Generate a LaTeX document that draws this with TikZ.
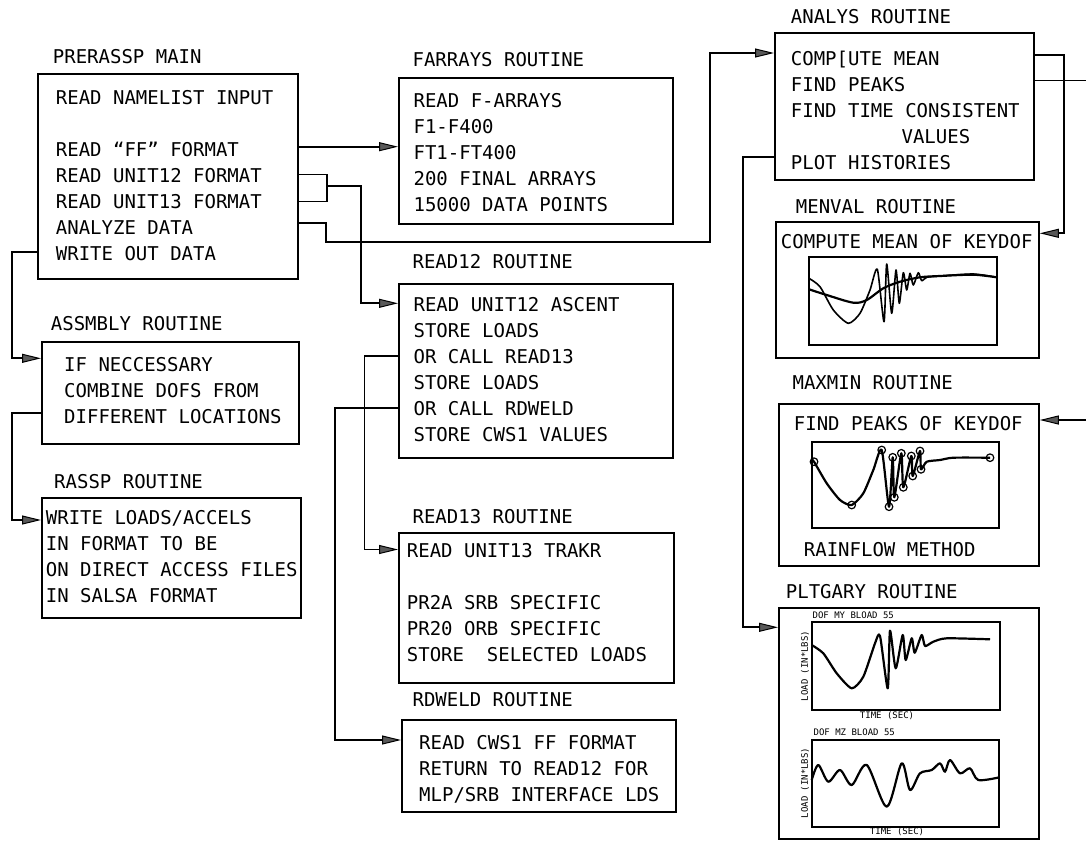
\documentclass[tikz,border=0pt]{standalone}
\usepackage{fontspec}
\setmainfont{DejaVu Sans Mono}
\usetikzlibrary{arrows.meta}
\newcommand{\boxfont}{\fontsize{19}{26}\selectfont}
\newcommand{\plotfont}{\fontsize{9}{10}\selectfont}
\begin{document}
\begin{tikzpicture}[x=1pt, y=-1pt, line width=1.8pt,
  box/.style={draw, anchor=north west, inner sep=0pt},
  txt/.style={anchor=north west, inner sep=0pt, font=\boxfont},
  ttl/.style={anchor=west, inner sep=0pt, font=\boxfont},
  lbl/.style={inner sep=0pt, font=\plotfont},
  arr/.style={-{Triangle[length=19pt, width=9pt, line width=1pt, fill=black!65]}},
  trace/.style={line width=2.2pt, line join=round}]
\useasboundingbox (0,0) rectangle (1086,841);

\node[box, minimum width=260pt, minimum height=205pt] (main) at (37,73) {};
\node[box, minimum width=274pt, minimum height=146pt] (farrays) at (398,77) {};
\node[box, minimum width=259pt, minimum height=147pt] (analys) at (774,32) {};
\node[box, minimum width=263pt, minimum height=136pt] (menval) at (775,221) {};
\node[box, minimum width=260pt, minimum height=162pt] (maxmin) at (778,403) {};
\node[box, minimum width=260pt, minimum height=231pt] (pltgary) at (778,607) {};
\node[box, minimum width=274pt, minimum height=174pt] (read12) at (398,283) {};
\node[box, minimum width=275pt, minimum height=150pt] (read13) at (398,532) {};
\node[box, minimum width=274pt, minimum height=92pt] (rdweld) at (401,719) {};
\node[box, minimum width=257pt, minimum height=102pt] (assmbly) at (41,341) {};
\node[box, minimum width=259pt, minimum height=120pt] (rassp) at (41,497) {};

\node[ttl] (maintitle) at (52,57) {PRERASSP MAIN};
\node[ttl] (farraystitle) at (411.7,60) {FARRAYS ROUTINE};
\node[ttl] (analystitle) at (790,16.7) {ANALYS ROUTINE};
\node[ttl] (menvaltitle) at (795,206.7) {MENVAL ROUTINE};
\node[ttl] (maxmintitle) at (791.7,383) {MAXMIN ROUTINE};
\node[ttl] (pltgarytitle) at (785,591.7) {PLTGARY ROUTINE};
\node[ttl] (read12title) at (411.7,261.7) {READ12 ROUTINE};
\node[ttl] (read13title) at (411.7,516.7) {READ13 ROUTINE};
\node[ttl] (rdweldtitle) at (411.7,700) {RDWELD ROUTINE};
\node[ttl] (assmblytitle) at (50,323.3) {ASSMBLY ROUTINE};
\node[ttl] (rassptitle) at (53.3,481.7) {RASSP ROUTINE};

\node[txt] (maintxt) at (55,85.5) {
\begin{tabular}{@{}l@{}}
READ NAMELIST INPUT \\
\\
READ ``FF'' FORMAT \\
READ UNIT12 FORMAT \\
READ UNIT13 FORMAT \\
ANALYZE DATA \\
WRITE OUT DATA
\end{tabular}
};
\node[txt] (farraystxt) at (412.7,88.8) {
\begin{tabular}{@{}l@{}}
READ F-ARRAYS \\
F1-F400 \\
FT1-FT400 \\
200 FINAL ARRAYS \\
15000 DATA POINTS
\end{tabular}
};
\node[txt] (analystxt) at (790,46.1) {
\begin{tabular}{@{}l@{}}
COMP[UTE MEAN \\
FIND PEAKS \\
FIND TIME CONSISTENT \\
\hspace*{110.7pt}VALUES \\
PLOT HISTORIES
\end{tabular}
};
\node[txt] (read12txt) at (412.7,292.1) {
\begin{tabular}{@{}l@{}}
READ UNIT12 ASCENT \\
STORE LOADS \\
OR CALL READ13 \\
STORE LOADS \\
OR CALL RDWELD \\
STORE CWS1 VALUES
\end{tabular}
};
\node[txt] (read13txt) at (406,538.8) {
\begin{tabular}{@{}l@{}}
READ UNIT13 TRAKR \\
\\
PR2A SRB SPECIFIC \\
PR20 ORB SPECIFIC \\
STORE\ \ SELECTED LOADS
\end{tabular}
};
\node[txt] (rdweldtxt) at (418.3,730.5) {
\begin{tabular}{@{}l@{}}
READ CWS1 FF FORMAT \\
RETURN TO READ12 FOR \\
MLP/SRB INTERFACE LDS
\end{tabular}
};
\node[txt] (assmblytxt) at (63.3,352.1) {
\begin{tabular}{@{}l@{}}
IF NECCESSARY \\
COMBINE DOFS FROM \\
DIFFERENT LOCATIONS
\end{tabular}
};
\node[txt] (rassptxt) at (45,505.5) {
\begin{tabular}{@{}l@{}}
WRITE LOADS/ACCELS \\
IN FORMAT TO BE \\
ON DIRECT ACCESS FILES \\
IN SALSA FORMAT
\end{tabular}
};
\node[ttl] (menvaltxt) at (780,241.7) {COMPUTE MEAN OF KEYDOF};
\node[ttl] (maxmintxt) at (793,423.3) {FIND PEAKS OF KEYDOF};
\node[ttl] (rainflow) at (803,550) {RAINFLOW METHOD};

\draw[arr] (main.east |- 0,146.7) -- (farrays.west |- 0,146.7);
\draw (main.east |- 0,174.5) -| (327,201.5) -- (main.east |- 0,201.5);
\draw[arr] (327,186) -| (361,303.3) -- (read12.west |- 0,303.3);
\draw[arr] (main.east |- 0,223) -| (326,242) -| (710,53) -- (analys.west |- 0,53);
\draw[arr] (main.west |- 0,252) -| (12,358.3) -- (assmbly.west |- 0,358.3);
\draw[arr] (assmbly.west |- 0,412.7) -| (12,520) -- (rassp.west |- 0,520);
\draw[arr] (read12.west |- 0,356.3) -| (364.5,549.5) -- (read13.west |- 0,549.5);
\draw[arr] (read12.west |- 0,408.3) -| (335,740) -- (rdweld.west |- 0,740);
\draw[arr] (analys.east |- 0,55) -| (1064,233.3) -- (menval.east |- 0,233.3);
\draw[arr] (analys.east |- 0,80.5) -| (1095,420) -- (maxmin.east |- 0,420);
\draw[arr] (analys.west |- 0,156.7) -| (743,627.3) -- (pltgary.west |- 0,627.3);

\draw (809,256.7) rectangle (996.7,345);
\draw[line width=1.6pt, line join=round] plot[smooth, tension=0.4] coordinates {(809,278.3) (820,286.7) (833.3,310) (848.3,323.3) (860,313.3) (870,290) (877.3,269.3) (884,321.7) (886.7,264) (891.7,313.3) (896,270) (899.3,303.3) (903.3,272.7) (906.7,290) (910,273.3) (913.3,285) (918.3,272.7) (921.7,280.7) (926.7,277.3) (940,276) (973.3,274) (996.7,277.3)};
\draw[trace] plot[smooth, tension=0.5] coordinates {(809,289.3) (826.7,295) (853.3,302.7) (866.7,300) (883.3,288.3) (900,281.7) (920,277.3) (940,276) (973.3,274.7) (996.7,277.3)};

\draw (811.7,441.7) rectangle (999.3,528.3);
\draw[trace] plot[smooth, tension=0.4] coordinates {(811.7,459.3) (814,461.7) (826.7,483.3) (840,500) (851.7,505) (863.3,493.3) (873.3,470) (881.7,450) (889,506.7) (892.7,457.3) (894.3,497.3) (901.3,453.3) (903.3,487.3) (911.3,456) (912.7,476) (920,451) (921,469.3) (926.7,461.7) (940,460) (953.3,457.7) (990,457.7)};
\foreach \a/\b in {814/461.7, 851.7/505, 881.7/450, 889/506.7, 892.7/457.3, 894.3/497.3, 901.3/453.3, 903.3/487.3, 911.3/456, 912.7/476, 920/451, 921/469.3, 990/457.7}
  \draw[line width=1.2pt] (\a,\b) circle[radius=3.8pt];

\draw (811.7,621.7) rectangle (1000,710);
\draw[trace] plot[smooth, tension=0.4] coordinates {(811.7,645) (823.3,653.3) (836.7,673.3) (851.7,688.3) (863.3,676.7) (875,643.3) (880,636) (887.7,688.3) (890,630.7) (895.7,668.3) (902.7,635) (905.7,660) (911.7,638.3) (914.7,652.7) (921.7,635) (925,646) (933.3,641.7) (946.7,638.3) (990,639.3)};
\node[lbl, anchor=west] (p1title) at (811.7,615) {DOF MY BLOAD 55};
\node[lbl, rotate=90] (p1y) at (805,666) {LOAD (IN*LBS)};
\node[lbl] (p1x) at (887,715.5) {TIME (SEC)};

\draw (811.7,740) rectangle (999.3,826.7);
\draw[trace] plot[smooth, tension=0.5] coordinates {(811.7,780) (818.3,765) (828.3,781.7) (840,770) (851.7,785) (866.7,765) (886.7,806.7) (901.7,763.3) (910,790) (920,773.3) (931.7,770) (940,763.3) (945,771.7) (950,760) (960,773.3) (970,768.3) (978.3,780) (999.3,777.3)};
\node[lbl, anchor=west] (p2title) at (812.7,732.3) {DOF MZ BLOAD 55};
\node[lbl, rotate=90] (p2y) at (805,783) {LOAD (IN*LBS)};
\node[lbl] (p2x) at (897,832) {TIME (SEC)};
\end{tikzpicture}
\end{document}
